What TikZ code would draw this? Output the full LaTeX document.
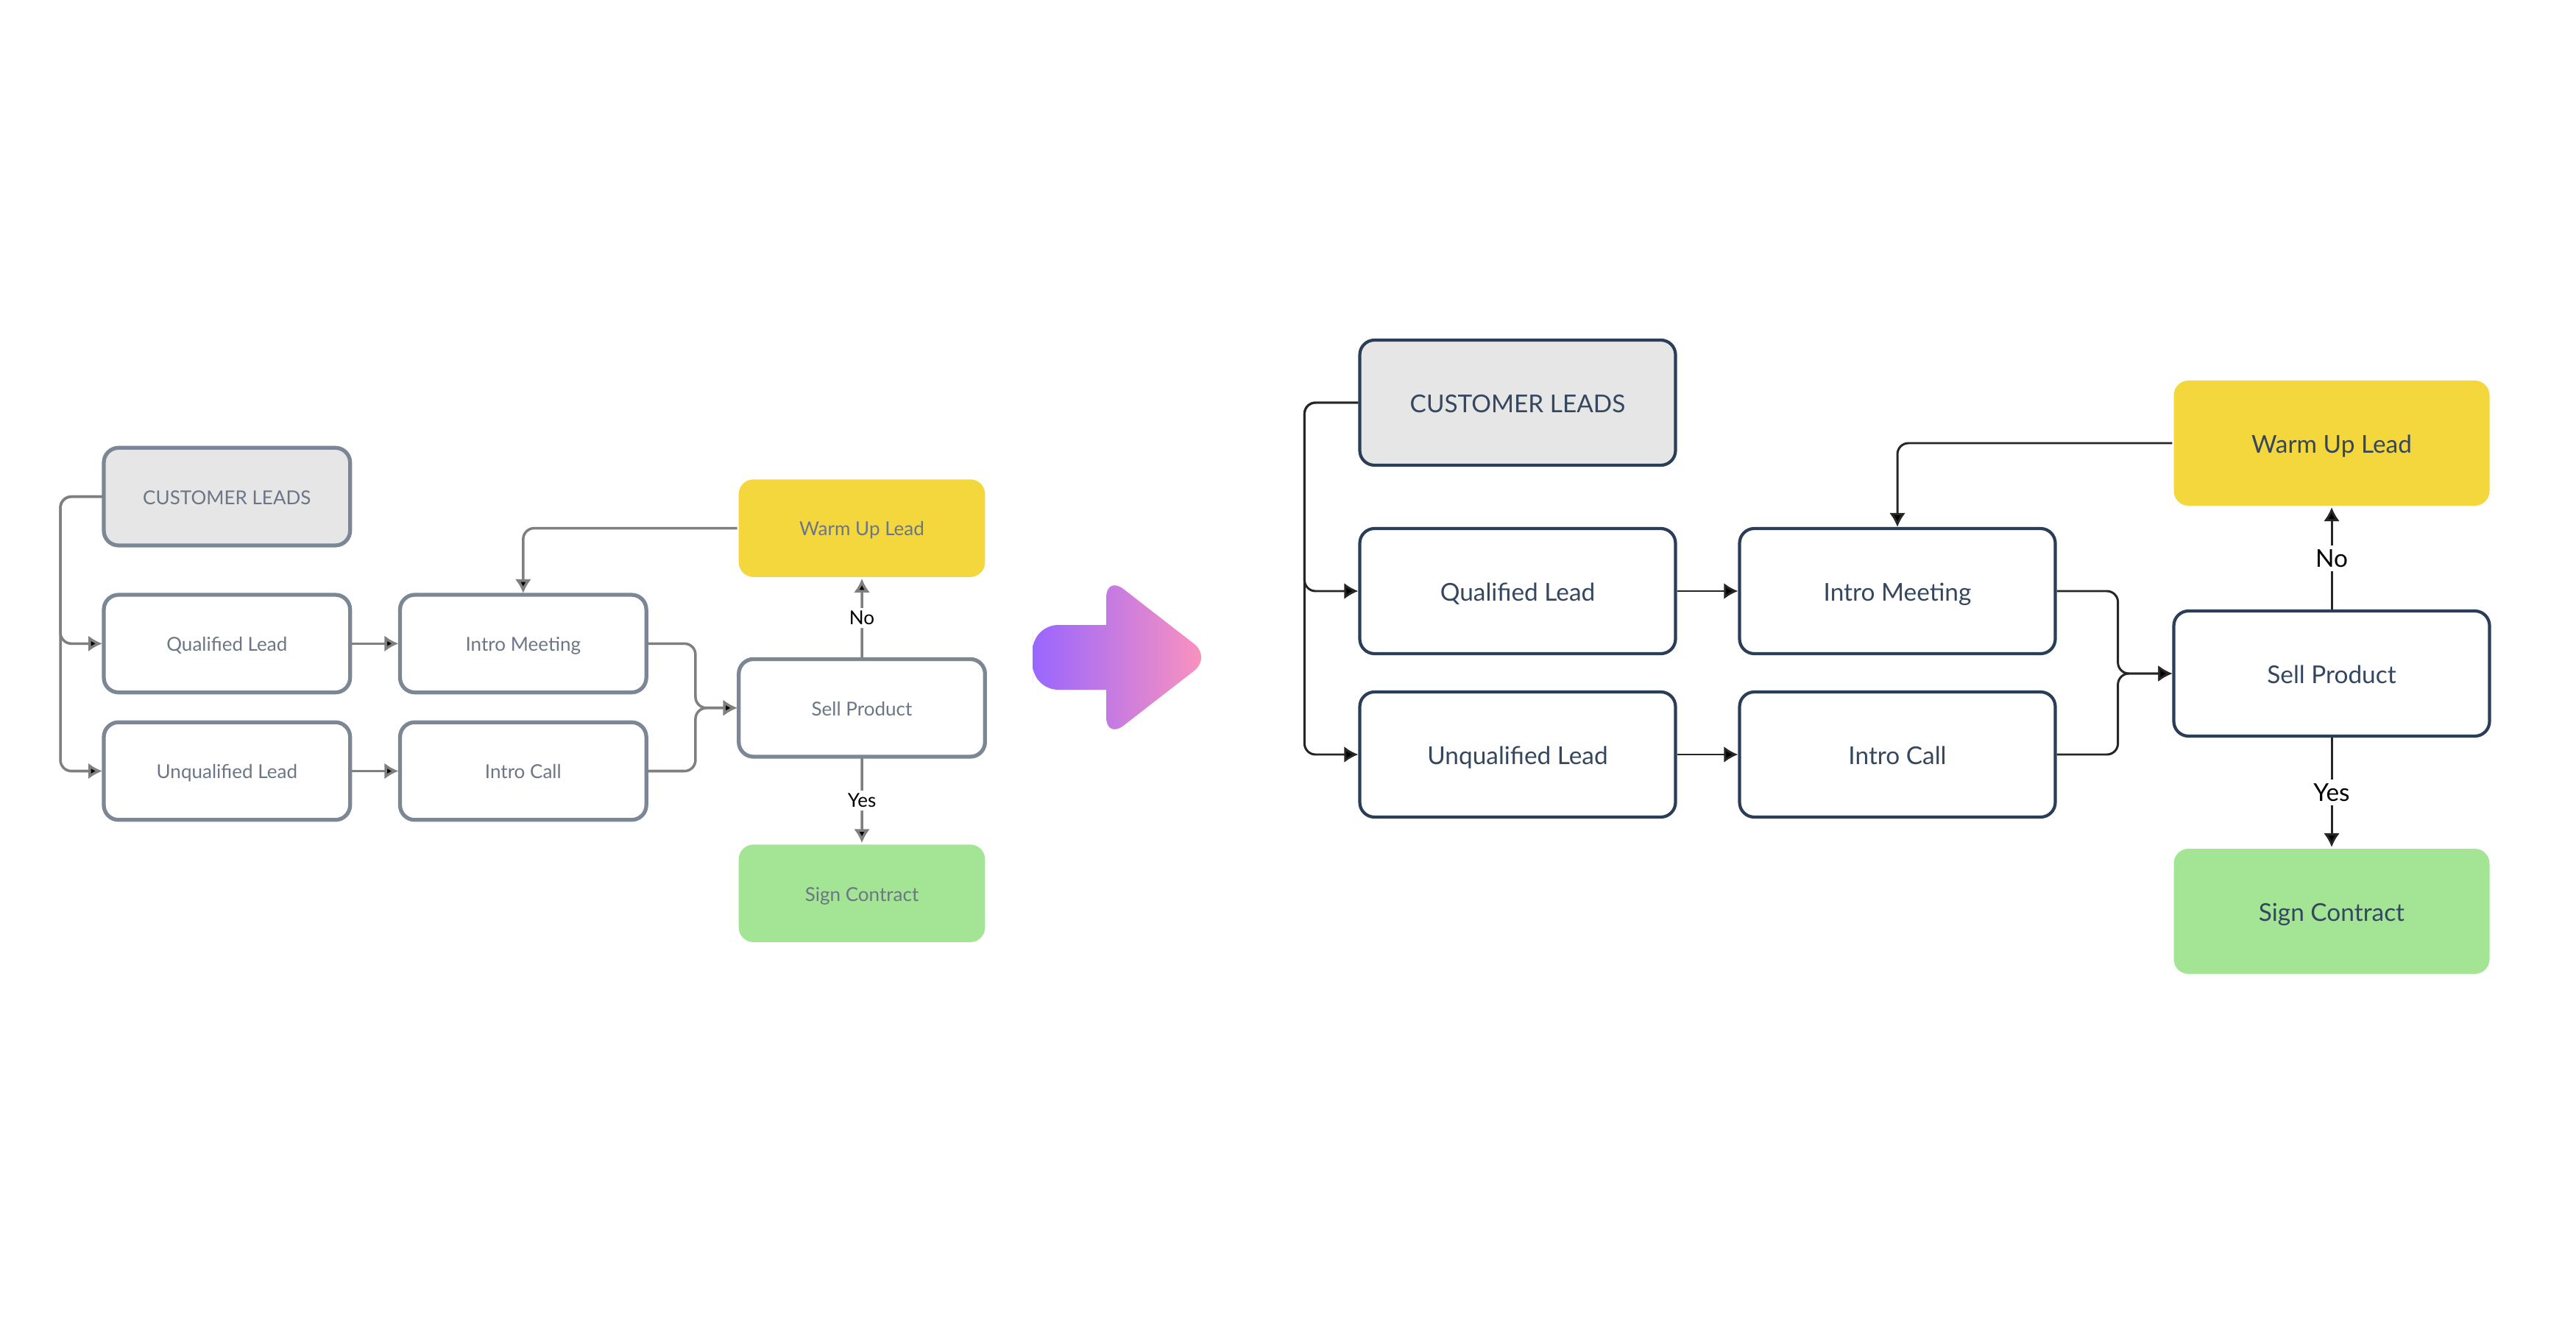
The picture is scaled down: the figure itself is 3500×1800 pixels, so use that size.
\documentclass[tikz,border=0pt]{standalone}
\usepackage{fontspec}
\setmainfont{Lato}
\usetikzlibrary{arrows.meta}

\definecolor{navy}{HTML}{2B3E58}
\definecolor{inktext}{HTML}{34475F}
\definecolor{leadgrey}{HTML}{E6E6E6}
\definecolor{warmyellow}{HTML}{F4D73D}
\definecolor{signgreen}{HTML}{A3E595}
\definecolor{wire}{HTML}{262626}
\definecolor{fadeline}{HTML}{7C8796}
\definecolor{fadetext}{HTML}{6B7686}
\definecolor{fadewire}{HTML}{7F7F7F}
\definecolor{arrowpurple}{HTML}{9966FF}
\definecolor{arrowpink}{HTML}{FF94BB}

\tikzset{
	box/.style={draw=navy, line width=1.2pt, rounded corners=2mm, fill=white, text=inktext,
		minimum width=42.9mm, minimum height=17mm, text height=1.6ex, text depth=0.1ex,
		font=\fontsize{9.5}{11}\selectfont},
	flow/.style={draw=wire, line width=0.85pt, rounded corners=1.5mm,
		-{Latex[length=1.9mm,width=2.2mm,fill=black]}},
	answer/.style={fill=white, text=black, inner sep=1.5pt, font=\fontsize{9.5}{11}\selectfont},
}

% the lead flow, drawn once faded and once sharp
\newcommand{\leadflow}{%
	\node[box, fill=leadgrey] (leads) at (2062, 547) {CUSTOMER LEADS};
	\node[box] (qual) at (2062, 803) {Qualified Lead};
	\node[box] (unqual) at (2062, 1025) {Unqualified Lead};
	\node[box] (meet) at (2578, 803) {Intro Meeting};
	\node[box] (call) at (2578, 1025) {Intro Call};
	\node[box, draw=none, fill=warmyellow] (warm) at (3168, 602) {Warm Up Lead};
	\node[box] (sell) at (3168, 915) {Sell Product};
	\node[box, draw=none, fill=signgreen] (sign) at (3168, 1238) {Sign Contract};
	\draw[flow] (leads.west) -- ++(-73, 0) |- (qual.west);
	\draw[flow] (leads.west) -- ++(-73, 0) |- (unqual.west);
	\draw[flow] (qual) to (meet);
	\draw[flow] (unqual) to (call);
	\draw[flow] (meet.east) -- ++(83, 0) |- (sell.west);
	\draw[flow] (call.east) -- ++(83, 0) |- (sell.west);
	\draw[flow] (warm.west) -| (meet.north);
	\draw[flow] (sell) to node[answer] {No} (warm);
	\draw[flow] (sell) to node[answer] {Yes} (sign);
}

\begin{document}
\begin{tikzpicture}[x=0.1mm, y=-0.1mm]
	\useasboundingbox (0, 0) rectangle (3500, 1800);

	% before
	\begin{scope}[shift={(-1300, 248)}, scale=0.78, transform shape, name prefix=old-,
		box/.append style={draw=fadeline, text=fadetext, line width=1.5pt},
		flow/.append style={draw=fadewire, line width=1pt}]
		\leadflow
	\end{scope}

	% big arrow
	\shade[left color=arrowpurple, right color=arrowpink]
		(1403, 893) [rounded corners=3.5mm] -- (1403, 849) [sharp corners] -- (1503, 849)
		[rounded corners=3mm] -- (1503, 782) -- (1646, 893) -- (1503, 1004)
		[sharp corners] -- (1503, 937) [rounded corners=3.5mm] -- (1403, 937) -- cycle;

	% after
	\leadflow
\end{tikzpicture}
\end{document}
